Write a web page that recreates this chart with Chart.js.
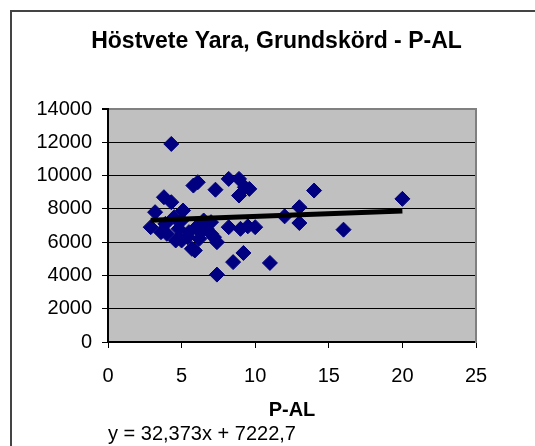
<!DOCTYPE html>
<html>
<head>
<meta charset="utf-8">
<script src="https://cdn.jsdelivr.net/npm/chart.js@4"></script>
<style>
  html, body { margin: 0; padding: 0; background: #fff; overflow: hidden; }
  #frame { position: absolute; left: 10px; top: 10px; width: 560px; height: 480px; border: 2px solid #444; }
  #wrap { position: absolute; left: 0; top: 0; width: 535px; height: 446px; }
</style>
</head>
<body>
<div id="frame"></div>
<div id="wrap"><canvas id="chart" width="535" height="446"></canvas></div>
<script>
// P-AL values (x) and yield (y)
const pAl = [2.9, 3.2, 3.6, 3.8, 3.9, 4.0, 4.3, 4.3, 4.5, 4.6,
             4.8, 5.0, 5.0, 5.1, 5.4, 5.5, 5.7, 5.8, 5.9, 6.0,
             6.1, 6.2, 6.3, 6.4, 6.5, 6.7, 7.0, 7.0, 7.2, 7.3,
             7.4, 7.4, 8.2, 8.2, 8.5, 8.9, 8.9, 9.0, 9.2, 9.3,
             9.5, 9.6, 10.0, 11.0, 12.0, 13.0, 13.0, 14.0, 16.0, 20.0];
const skord = [6900, 7800, 6600, 8700, 7100, 6500, 8400, 11900, 7500, 6100,
               6800, 6100, 7300, 7900, 6300, 6600, 5600, 9400, 5500, 6900,
               9600, 6200, 6600, 7000, 7300, 6800, 7200, 6500, 6300, 9150,
               6000, 4050, 9800, 6900, 4800, 9800, 8800, 6800, 5350, 9300,
               6950, 9200, 6900, 4750, 7550, 8100, 7150, 9100, 6750, 8600];

// trendline as printed on the chart
const slope = 32.373;
const intercept = 7222.7;
const equationText = 'y = 32,373x + 7222,7';

const xTicks = [0, 5, 10, 15, 20, 25];
const yTicks = [0, 2000, 4000, 6000, 8000, 10000, 12000, 14000];

const points = pAl.map((x, i) => ({ x: x, y: skord[i] }));
const xMin = Math.min(...pAl), xMax = Math.max(...pAl);
const trend = [
  { x: xMin, y: slope * xMin + intercept },
  { x: xMax, y: slope * xMax + intercept }
];

const FONT = "'Liberation Sans', Arial, sans-serif";

// grey plot background
const plotBg = {
  id: 'plotBg',
  beforeDraw(chart) {
    const a = chart.chartArea, ctx = chart.ctx;
    ctx.save();
    ctx.fillStyle = '#c0c0c0';
    ctx.fillRect(a.left, a.top, a.right - a.left, a.bottom - a.top);
    ctx.restore();
  }
};

new Chart(document.getElementById('chart'), {
  type: 'scatter',
  data: {
    datasets: [
      {
        type: 'line',
        data: trend,
        borderColor: '#000',
        borderWidth: 5,
        pointRadius: 0,
        fill: false,
        order: 0
      },
      {
        data: points,
        pointStyle: 'rectRot',
        pointRadius: 7.5,
        pointBackgroundColor: '#000080',
        pointBorderColor: '#000080',
        pointBorderWidth: 1,
        order: 1
      }
    ]
  },
  options: {
    responsive: false,
    animation: false,
    layout: { padding: { left: 18, right: 0, top: 0, bottom: 0 } },
    plugins: {
      legend: { display: false },
      tooltip: { enabled: false },
      title: {
        display: true,
        text: 'Höstvete Yara, Grundskörd - P-AL',
        color: '#000',
        font: { family: FONT, size: 23, weight: 'bold' },
        padding: { top: 28, bottom: 53.4 }
      },
      subtitle: {
        display: true,
        position: 'bottom',
        fullSize: false,
        align: 'start',
        text: equationText,
        color: '#000',
        font: { family: FONT, size: 20 },
        padding: { top: 0, bottom: 0 }
      }
    },
    scales: {
      x: {
        type: 'linear',
        min: 0,
        max: 25,
        afterBuildTicks: s => { s.ticks = xTicks.map(v => ({ value: v })); },
        ticks: { color: '#000', font: { family: FONT, size: 20 }, padding: 16, callback: v => String(v) },
        grid: { drawOnChartArea: false, drawTicks: true, tickLength: 6, tickColor: '#000', tickWidth: 1 },
        border: { color: '#000', width: 2 },
        title: {
          display: true,
          text: 'P-AL',
          color: '#000',
          font: { family: FONT, size: 20, weight: 'bold' },
          padding: { top: 0, bottom: 0 }
        },
        afterFit: s => { s.height = 80; }
      },
      y: {
        type: 'linear',
        min: 0,
        max: 14000,
        afterBuildTicks: s => { s.ticks = yTicks.map(v => ({ value: v })); },
        ticks: { color: '#000', font: { family: FONT, size: 20 }, padding: 10, callback: v => String(v) },
        grid: {
          color: c => c.tick && c.tick.value === 14000 ? '#808080' : '#000',
          lineWidth: c => c.tick && c.tick.value === 14000 ? 2 : 1,
          tickLength: 6,
          tickColor: '#000'
        },
        border: { color: '#000', width: 2 },
        afterFit: s => { s.width = 90; }
      },
      yRight: {
        type: 'linear',
        position: 'right',
        ticks: { display: false },
        grid: { drawOnChartArea: false, drawTicks: false },
        border: { color: '#808080', width: 2 },
        afterFit: s => { s.width = 59; }
      }
    }
  },
  plugins: [plotBg]
});
</script>
</body>
</html>
